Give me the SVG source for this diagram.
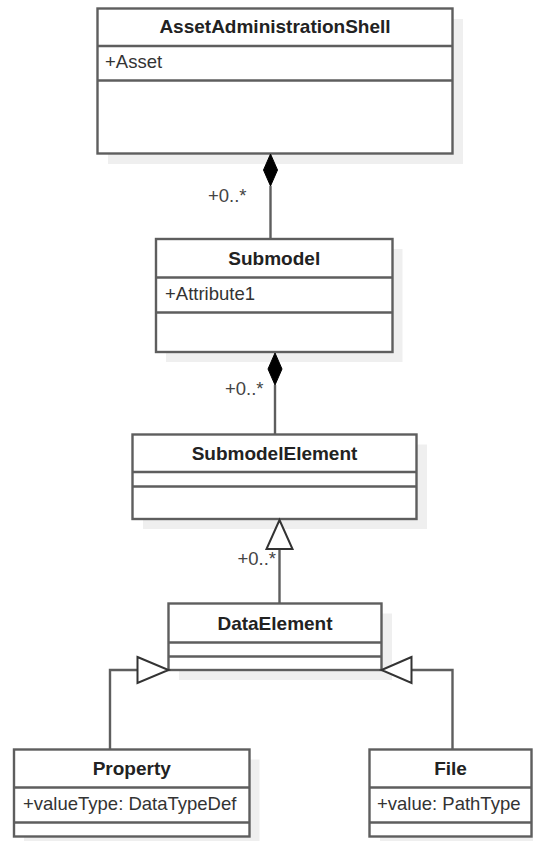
<svg xmlns="http://www.w3.org/2000/svg" width="533" height="841" viewBox="0 0 533 841">
<style>
.shadow{fill:#efefef;stroke:none}
.box{fill:#ffffff;stroke:#5e5e5e;stroke-width:2.4}
.sep{stroke:#5e5e5e;stroke-width:2.4}
.title{font-family:"Liberation Sans",Arial,sans-serif;font-size:19px;font-weight:bold;fill:#222;text-anchor:middle}
.attr{font-family:"Liberation Sans",Arial,sans-serif;font-size:18.5px;fill:#333}
.lbl{font-family:"Liberation Sans",Arial,sans-serif;font-size:18.5px;fill:#444}
.edge{fill:none;stroke:#5e5e5e;stroke-width:2.4}
.diamond{fill:#000;stroke:#000;stroke-width:1}
.tri{fill:#fff;stroke:#333;stroke-width:2}
</style>
<rect width="533" height="841" fill="#ffffff"/>
<g id="shadows">
<rect class="shadow" x="108" y="19" width="355" height="145"/>
<rect class="shadow" x="166" y="249" width="236.5" height="113"/>
<rect class="shadow" x="143" y="444.5" width="284" height="84.5"/>
<rect class="shadow" x="179" y="613.5" width="213" height="66.5"/>
<rect class="shadow" x="24" y="759.5" width="235.5" height="87"/>
<rect class="shadow" x="380" y="759.5" width="162" height="87"/>
</g>
<g id="AssetAdministrationShell">
<rect class="box" x="97.5" y="8.5" width="355" height="145"/>
<line class="sep" x1="97.5" y1="46" x2="452.5" y2="46"/>
<line class="sep" x1="97.5" y1="80.5" x2="452.5" y2="80.5"/>
<text class="title" x="275" y="33">AssetAdministrationShell</text>
<text class="attr" x="105" y="68">+Asset</text>
</g>
<g id="Submodel">
<rect class="box" x="156" y="239" width="236.5" height="113"/>
<line class="sep" x1="156" y1="277.5" x2="392.5" y2="277.5"/>
<line class="sep" x1="156" y1="312.5" x2="392.5" y2="312.5"/>
<text class="title" x="274.25" y="265">Submodel</text>
<text class="attr" x="165" y="300">+Attribute1</text>
</g>
<g id="SubmodelElement">
<rect class="box" x="132.5" y="434.5" width="284" height="84.5"/>
<line class="sep" x1="132.5" y1="472" x2="416.5" y2="472"/>
<line class="sep" x1="132.5" y1="486.5" x2="416.5" y2="486.5"/>
<text class="title" x="274.5" y="460">SubmodelElement</text>
</g>
<g id="DataElement">
<rect class="box" x="168.5" y="603.5" width="213" height="66.5"/>
<line class="sep" x1="168.5" y1="642.5" x2="381.5" y2="642.5"/>
<line class="sep" x1="168.5" y1="656.5" x2="381.5" y2="656.5"/>
<text class="title" x="275" y="630">DataElement</text>
</g>
<g id="Property">
<rect class="box" x="14" y="749.5" width="235.5" height="87"/>
<line class="sep" x1="14" y1="787.5" x2="249.5" y2="787.5"/>
<line class="sep" x1="14" y1="822.5" x2="249.5" y2="822.5"/>
<text class="title" x="131.75" y="775">Property</text>
<text class="attr" x="23" y="810">+valueType: DataTypeDef</text>
</g>
<g id="File">
<rect class="box" x="369.5" y="749.5" width="162" height="87"/>
<line class="sep" x1="369.5" y1="787.5" x2="531.5" y2="787.5"/>
<line class="sep" x1="369.5" y1="822.5" x2="531.5" y2="822.5"/>
<text class="title" x="450.5" y="775">File</text>
<text class="attr" x="377" y="810">+value: PathType</text>
</g>
<g id="connectors">
<line class="edge" x1="270.5" y1="186" x2="270.5" y2="239"/>
<polygon class="diamond" points="270.5,154 277.5,170 270.5,186 263.5,170"/>
<text class="lbl" x="208" y="201.5">+0..*</text>
<line class="edge" x1="275" y1="385" x2="275" y2="434.5"/>
<polygon class="diamond" points="275,353 282,369 275,385 268,369"/>
<text class="lbl" x="225" y="395">+0..*</text>
<line class="edge" x1="279.5" y1="549" x2="279.5" y2="603.5"/>
<polygon class="tri" points="279.5,520 292.5,549 266.5,549"/>
<text class="lbl" x="237.5" y="565">+0..*</text>
<path class="edge" d="M110,749.5 V670 H137.5"/>
<polygon class="tri" points="137.5,657 168.5,670 137.5,683"/>
<path class="edge" d="M452.5,749.5 V670 H411.5"/>
<polygon class="tri" points="411.5,657 381.5,670 411.5,683"/>
</g>
</svg>
